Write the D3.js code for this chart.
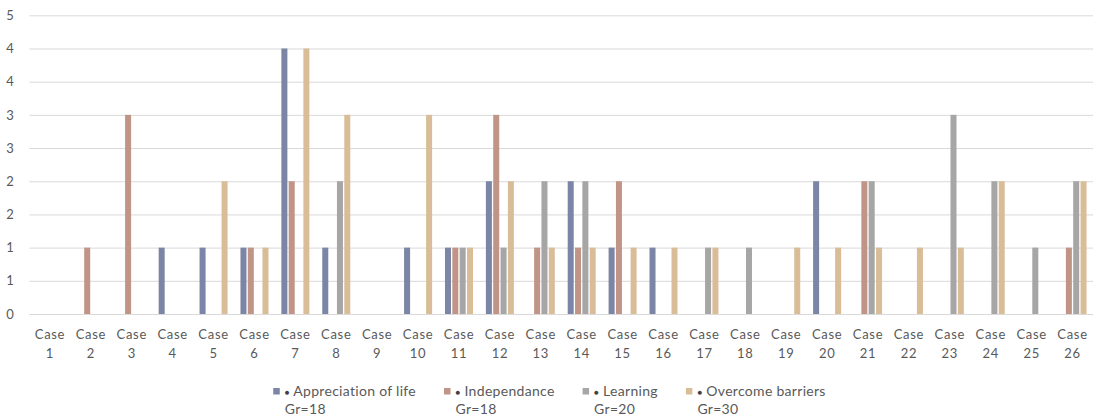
<!DOCTYPE html>
<html>
<head>
<meta charset="utf-8">
<script src="https://cdn.jsdelivr.net/npm/d3@7"></script>
<style>
  html, body { margin: 0; padding: 0; background: #fff; }
  svg { display: block; }
  text { font-family: "Lato", "Open Sans", sans-serif; fill: #595959; }
</style>
</head>
<body>
<svg id="chart" width="1093" height="419"></svg>
<script>
// Categories
const cases = d3.range(1, 27).map(n => "Case " + n);

// Series names, group sizes and counts per case
const seriesNames = ["Appreciation of life", "Independance", "Learning", "Overcome barriers"];
const groupSizes = ["Gr=18", "Gr=18", "Gr=20", "Gr=30"];
const appreciation = [0,0,0,1,1,1,4,1,0,1,1,2,0,2,1,1,0,0,0,2,0,0,0,0,0,0];
const independance = [0,1,3,0,0,1,2,0,0,0,1,3,1,1,2,0,0,0,0,0,2,0,0,0,0,1];
const learning     = [0,0,0,0,0,0,0,2,0,0,1,1,2,2,0,0,1,1,0,0,2,0,3,2,1,2];
const overcome     = [0,0,0,0,2,1,4,3,0,3,1,2,1,1,1,1,1,0,1,1,1,1,1,2,0,2];
const seriesValues = [appreciation, independance, learning, overcome];

// Y ticks every half step
const yTicks = d3.range(0, 4.51, 0.5);

const colors = ["#7b85a5", "#c09588", "#a6a6a6", "#d9bd98"];

const svg = d3.select("#chart");

const x0 = d3.scaleBand()
  .domain(cases)
  .range([29.5, 1093])
  .paddingInner(0.315)
  .paddingOuter(0.1577);

const x1 = d3.scaleBand()
  .domain(seriesNames)
  .range([0, x0.bandwidth()])
  .paddingInner(0.18)
  .paddingOuter(0);

const y = d3.scaleLinear()
  .domain([0, 4.5])
  .range([314, 15.3]);

// Gridlines and y labels
const yAxis = svg.append("g")
  .attr("transform", "translate(29.5,0)")
  .call(d3.axisLeft(y)
    .tickValues(yTicks)
    .tickFormat(d => Math.round(d))
    .tickSize(-(1093 - 29.5))
    .tickPadding(10));
yAxis.select(".domain").remove();
yAxis.selectAll(".tick line").attr("stroke", "#d9d9d9").attr("stroke-width", 1);
yAxis.selectAll(".tick text")
  .attr("font-size", 13)
  .attr("fill", "#595959")
  .attr("text-anchor", "middle")
  .attr("x", -19.5);

// Bars
const rows = cases.map((c, i) => ({
  c,
  vals: seriesNames.map((s, k) => ({ s, k, v: seriesValues[k][i] }))
}));

const groups = svg.append("g").selectAll("g")
  .data(rows)
  .join("g")
  .attr("transform", d => `translate(${x0(d.c)},0)`);

groups.selectAll("rect")
  .data(d => d.vals.filter(e => e.v > 0))
  .join("rect")
  .attr("x", e => x1(e.s))
  .attr("y", e => y(e.v))
  .attr("width", x1.bandwidth())
  .attr("height", e => y(0) - y(e.v))
  .attr("fill", e => colors[e.k]);

// Category labels on two lines
const xAxis = svg.append("g")
  .attr("transform", "translate(0,314)")
  .call(d3.axisBottom(x0).tickSize(0).tickFormat(""));
xAxis.select(".domain").remove();
xAxis.selectAll(".tick").each(function(d) {
  const parts = d.split(" ");
  const t = d3.select(this).append("text")
    .attr("font-size", 13)
    .attr("fill", "#595959")
    .attr("text-anchor", "middle")
    .attr("letter-spacing", 0.7);
  t.append("tspan").attr("x", 0).attr("y", 25).text(parts[0]);
  t.append("tspan").attr("x", 0).attr("y", 44).text(parts[1]);
});

// Legend
const legend = svg.append("g");
const items = legend.selectAll("g")
  .data(seriesNames)
  .join("g");

items.append("rect")
  .attr("x", 0).attr("y", 388)
  .attr("width", 6.5).attr("height", 6.5)
  .attr("fill", (d, i) => colors[i]);

items.each(function(d, i) {
  const g = d3.select(this);
  const t = g.append("text").attr("font-size", 14).attr("letter-spacing", 0.3).attr("fill", "#595959");
  t.append("tspan").attr("x", 11.5).attr("y", 395.7).attr("font-size", 8)
    .attr("dy", -1.2).attr("fill", "#404040").text("●");
  t.append("tspan").attr("dy", 1.2).attr("font-size", 14).text(" " + d);
  g.append("text").attr("font-size", 14).attr("letter-spacing", 0.3).attr("fill", "#595959")
    .attr("x", 11.5).attr("y", 414).text(groupSizes[i]);
});

// Place legend entries side by side, centred
let offsets = [], cur = 0;
items.each(function() {
  offsets.push(cur);
  const w = this.getBBox().width;
  cur += w + 28;
});
const total = cur - 28;
const start = 549.5 - total / 2;
items.attr("transform", (d, i) => `translate(${start + offsets[i]},0)`);
</script>
</body>
</html>
